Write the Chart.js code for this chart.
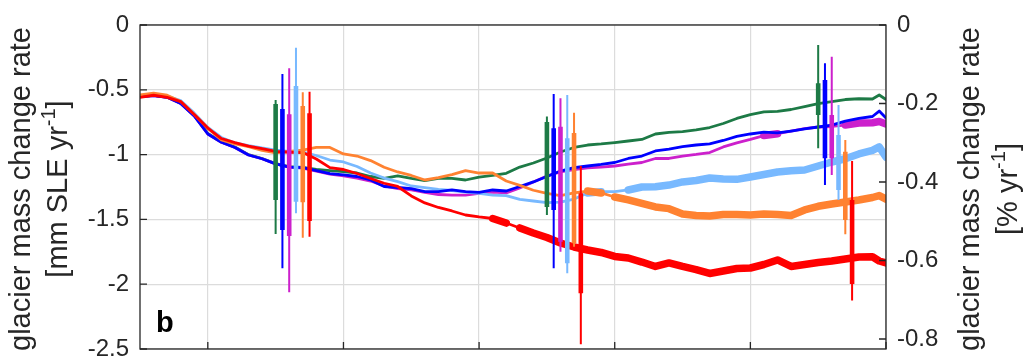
<!DOCTYPE html>
<html>
<head>
<meta charset="utf-8">
<script src="https://cdn.jsdelivr.net/npm/chart.js@4/dist/chart.umd.min.js"></script>
<style>
  html, body { margin: 0; padding: 0; background: #ffffff; overflow: hidden; }
  canvas { display: block; }
</style>
</head>
<body>
<canvas id="chart" width="1033" height="361"></canvas>
<script>
// ---- data -------------------------------------------------------------
const years = [1975, 1976, 1977, 1978, 1979, 1980, 1981, 1982, 1983, 1984,
  1985, 1986, 1987, 1988, 1989, 1990, 1991, 1992, 1993, 1994,
  1995, 1996, 1997, 1998, 1999, 2000, 2001, 2002, 2003, 2004,
  2005, 2006, 2007, 2008, 2009, 2010, 2011, 2012, 2013, 2014,
  2015, 2016, 2017, 2018, 2019, 2020, 2021, 2022, 2023, 2024,
  2025, 2026, 2027, 2028, 2029, 2029.5, 2030];

// glacier mass change rate, mm SLE per year
const redRate = [-0.558, -0.542, -0.559, -0.591, -0.690, -0.795, -0.876, -0.907, -0.934, -0.953,
  -0.976, -0.982, -0.984, -1.034, -1.100, -1.115, -1.146, -1.184, -1.221, -1.246,
  -1.319, -1.373, -1.408, -1.435, -1.466, -1.481, -1.493, -1.528, -1.566, -1.605,
  -1.640, -1.682, -1.713, -1.736, -1.755, -1.786, -1.798, -1.829, -1.863, -1.836,
  -1.863, -1.887, -1.917, -1.898, -1.879, -1.875, -1.848, -1.813, -1.863, -1.848,
  -1.833, -1.821, -1.806, -1.790, -1.788, -1.821, -1.836];
const orangeRate = [-0.540, -0.525, -0.542, -0.590, -0.691, -0.796, -0.887, -0.917, -0.939, -0.968,
  -0.986, -0.975, -0.965, -0.945, -0.945, -0.995, -1.011, -1.046, -1.098, -1.134,
  -1.161, -1.196, -1.177, -1.154, -1.123, -1.142, -1.142, -1.204, -1.238, -1.275,
  -1.300, -1.316, -1.296, -1.281, -1.296, -1.327, -1.350, -1.377, -1.404, -1.417,
  -1.458, -1.470, -1.474, -1.462, -1.462, -1.466, -1.458, -1.462, -1.470, -1.427,
  -1.399, -1.381, -1.366, -1.350, -1.331, -1.316, -1.343];
const blueRate = [-0.553, -0.544, -0.558, -0.606, -0.702, -0.841, -0.905, -0.945, -1.003, -1.032,
  -1.072, -1.096, -1.101, -1.123, -1.146, -1.157, -1.169, -1.196, -1.246, -1.254,
  -1.262, -1.285, -1.285, -1.273, -1.285, -1.292, -1.273, -1.281, -1.246, -1.211,
  -1.169, -1.127, -1.100, -1.088, -1.076, -1.061, -1.030, -1.011, -0.972, -0.957,
  -0.938, -0.926, -0.918, -0.891, -0.860, -0.841, -0.826, -0.833, -0.818, -0.802,
  -0.787, -0.772, -0.741, -0.721, -0.706, -0.664, -0.718];
const lightBlueRate = [-0.552, -0.532, -0.548, -0.583, -0.680, -0.790, -0.868, -0.910, -0.930, -0.949,
  -0.965, -0.976, -0.980, -1.007, -1.042, -1.057, -1.092, -1.142, -1.181, -1.208,
  -1.242, -1.254, -1.268, -1.277, -1.289, -1.300, -1.312, -1.316, -1.346, -1.358,
  -1.370, -1.366, -1.343, -1.296, -1.286, -1.285, -1.273, -1.250, -1.248, -1.235,
  -1.211, -1.200, -1.181, -1.188, -1.191, -1.173, -1.154, -1.134, -1.124, -1.119,
  -1.088, -1.057, -1.032, -0.995, -0.968, -0.941, -1.019];
const magentaRate = [-0.553, -0.544, -0.558, -0.606, -0.702, -0.841, -0.905, -0.945, -1.003, -1.032,
  -1.072, -1.096, -1.104, -1.127, -1.150, -1.165, -1.181, -1.204, -1.242, -1.262,
  -1.273, -1.292, -1.308, -1.312, -1.312, -1.300, -1.289, -1.296, -1.258, -1.211,
  -1.165, -1.134, -1.115, -1.103, -1.096, -1.088, -1.073, -1.061, -1.030, -1.030,
  -1.011, -0.999, -0.984, -0.941, -0.910, -0.883, -0.853, -0.839, -0.818, -0.799,
  -0.787, -0.783, -0.772, -0.756, -0.754, -0.745, -0.764];
const greenRate = [-0.553, -0.543, -0.556, -0.603, -0.698, -0.836, -0.902, -0.942, -1.000, -1.030,
  -1.070, -1.092, -1.099, -1.115, -1.123, -1.132, -1.142, -1.169, -1.184, -1.165,
  -1.184, -1.200, -1.184, -1.184, -1.196, -1.173, -1.161, -1.144, -1.096, -1.065,
  -1.026, -0.980, -0.945, -0.926, -0.918, -0.907, -0.895, -0.883, -0.841, -0.829,
  -0.822, -0.810, -0.791, -0.760, -0.721, -0.691, -0.671, -0.667, -0.652, -0.629,
  -0.606, -0.592, -0.575, -0.569, -0.571, -0.540, -0.575];

// year spans [from, to) in which a series is drawn as a heavy line
const heavySpans = {
  red:       [[2001, 2002], [2003, 2031]],
  orange:    [[2008, 2009], [2010, 2031]],
  lightBlue: [[2008, 2009], [2011, 2031]],
  blue:      [],
  magenta:   [[2021, 2022], [2027, 2031]],
  green:     []
};

// period estimates: position, wide range [top, bottom], narrow range [top, bottom]
const estYears = {
  green:     [1985.0, 2005.0, 2025.0],
  blue:      [1985.5, 2005.5, 2025.5],
  magenta:   [1986.0, 2006.0, 2026.0],
  lightBlue: [1986.5, 2006.5, 2026.5],
  orange:    [1987.0, 2007.0, 2027.0],
  red:       [1987.5, 2007.5, 2027.5]
};
const estWide = {
  green:     [[-0.579, -1.613], [-0.706, -1.466], [-0.154, -0.951]],
  blue:      [[-0.378, -1.877], [-0.532, -1.877], [-0.296, -1.235]],
  magenta:   [[-0.334, -2.063], [-0.566, -1.749], [-0.245, -1.157]],
  lightBlue: [[-0.175, -1.453], [-0.540, -1.916], [-0.617, -1.350]],
  orange:    [[-0.519, -1.641], [-0.677, -1.711], [-0.887, -1.615]],
  red:       [[-0.515, -1.634], [-1.088, -2.464], [-1.049, -2.126]]
};
const estNarrow = {
  green:     [[-0.610, -1.351], [-0.748, -1.404], [-0.450, -0.694]],
  blue:      [[-0.648, -1.582], [-0.797, -1.427], [-0.424, -1.029]],
  magenta:   [[-0.689, -1.628], [-0.785, -1.672], [-0.694, -1.029]],
  lightBlue: [[-0.471, -1.363], [-0.874, -1.839], [-0.849, -1.273]],
  orange:    [[-0.625, -1.368], [-0.833, -1.684], [-0.978, -1.505]],
  red:       [[-0.681, -1.512], [-1.299, -2.070], [-1.350, -1.998]]
};

// axes
const xMin = 1975, xMax = 2030;
const xGrid = [1980, 1990, 2000, 2010, 2020, 2030];
const leftTicks = [0, -0.5, -1, -1.5, -2, -2.5];
const leftMin = -2.5;
const rightTicks = [0, -0.2, -0.4, -0.6, -0.8];
const rightMin = -0.8255;   // same span as the left axis, in % per year
const panelLabel = 'b';

// ---- styling ------------------------------------------------------------
const FONT = '"Liberation Sans", Arial, Helvetica, sans-serif';
const INK = '#262626';
const GRID = '#dcdcdc';
const colors = {
  red: '#ff0000', orange: '#ff8231', lightBlue: '#78b9ff',
  blue: '#0000ff', magenta: '#cc20cc', green: '#1d7a46'
};
const rates = { red: redRate, orange: orangeRate, lightBlue: lightBlueRate,
  blue: blueRate, magenta: magentaRate, green: greenRate };
// drawing order: first name is on top
const stack = ['red', 'orange', 'blue', 'lightBlue', 'magenta', 'green'];
const THIN = 2.8, HEAVY = 7.5;

const datasets = [];

// error bars (on top of the curves)
stack.forEach((name, k) => {
  [['wide', estWide, 2.0], ['narrow', estNarrow, 4.6]].forEach(([kind, src, w], j) => {
    const pts = [];
    estYears[name].forEach((x, i) => {
      pts.push({ x, y: src[name][i][0] }, { x, y: src[name][i][1] }, { x, y: null });
    });
    datasets.push({
      type: 'line', label: name + ' ' + kind, data: pts,
      borderColor: colors[name], borderWidth: w, borderCapStyle: 'butt',
      pointRadius: 0, spanGaps: false, fill: false, order: k * 2 + (1 - j)
    });
  });
});

// rate curves
stack.forEach((name, k) => {
  const spans = heavySpans[name];
  const isHeavy = x => spans.some(([a, b]) => x >= a && x < b);
  datasets.push({
    type: 'line', label: name, data: years.map((x, i) => ({ x, y: rates[name][i] })),
    borderColor: colors[name], borderWidth: THIN, tension: 0, pointRadius: 0, fill: false,
    borderJoinStyle: 'round', borderCapStyle: 'round', order: 20 + k,
    segment: { borderWidth: c => (isHeavy(c.p0.parsed.x) ? HEAVY : THIN) }
  });
});

// ---- titles, frame and inward tick marks ---------------------------------
function drawRotatedLine(ctx, baseX, centerY, parts, size) {
  ctx.save();
  ctx.translate(baseX, centerY);
  ctx.rotate(-Math.PI / 2);
  ctx.textBaseline = 'alphabetic';
  ctx.textAlign = 'left';
  const supSize = Math.round(size * 0.68);
  let total = 0;
  parts.forEach(p => {
    ctx.font = (p.sup ? supSize : size) + 'px ' + FONT;
    p.w = ctx.measureText(p.t).width;
    total += p.w;
  });
  let x = -total / 2;
  parts.forEach(p => {
    ctx.font = (p.sup ? supSize : size) + 'px ' + FONT;
    ctx.fillText(p.t, x, p.sup ? -size * 0.42 : 0);
    x += p.w;
  });
  ctx.restore();
}

const decor = {
  id: 'decor',
  afterDraw(chart) {
    const { ctx, chartArea: a, scales } = chart;
    ctx.save();
    ctx.strokeStyle = INK;
    ctx.lineWidth = 1.3;
    ctx.beginPath();
    leftTicks.forEach(v => { const y = scales.y.getPixelForValue(v); ctx.moveTo(a.left, y); ctx.lineTo(a.left + 7, y); });
    rightTicks.forEach(v => { const y = scales.y2.getPixelForValue(v); ctx.moveTo(a.right, y); ctx.lineTo(a.right - 7, y); });
    xGrid.forEach(v => { const x = scales.x.getPixelForValue(v); ctx.moveTo(x, a.bottom); ctx.lineTo(x, a.bottom - 7); });
    ctx.stroke();
    ctx.strokeRect(a.left, a.top, a.right - a.left, a.bottom - a.top);

    ctx.fillStyle = '#000000';
    ctx.font = 'bold 29px ' + FONT;
    ctx.textBaseline = 'alphabetic';
    ctx.textAlign = 'left';
    ctx.fillText(panelLabel, a.left + 16, a.bottom - 17);

    ctx.fillStyle = INK;
    const cy = (a.top + a.bottom) / 2 + 2;
    drawRotatedLine(ctx, 30, cy, [{ t: 'glacier mass change rate' }], 29);
    drawRotatedLine(ctx, 67, cy, [{ t: '[mm SLE yr' }, { t: '-1', sup: true }, { t: ']' }], 29);
    drawRotatedLine(ctx, 979, cy, [{ t: 'glacier mass change rate' }], 29);
    drawRotatedLine(ctx, 1017, cy, [{ t: '[% yr' }, { t: '-1', sup: true }, { t: ']' }], 29);
    ctx.restore();
  }
};

const tickFont = { family: FONT, size: 24, lineHeight: 1 };
// vertical axes: fixed width, and no extra room reserved above/below the plot
const fixY = w => s => { s.width = w; s.paddingTop = 0; s.paddingBottom = 0; };

new Chart(document.getElementById('chart'), {
  type: 'line',
  data: { datasets },
  options: {
    responsive: false,
    animation: false,
    devicePixelRatio: 1,
    layout: { padding: { left: 0, right: 0, top: 25, bottom: 12 } },
    plugins: { legend: { display: false }, tooltip: { enabled: false } },
    scales: {
      x: {
        type: 'linear', min: xMin, max: xMax,
        afterBuildTicks: s => { s.ticks = xGrid.map(v => ({ value: v })); },
        ticks: { display: false },
        grid: { color: GRID, lineWidth: 1.2, drawTicks: false },
        border: { display: false },
        afterFit: s => { s.height = 0; s.paddingLeft = 0; s.paddingRight = 0; }
      },
      y: {
        type: 'linear', position: 'left', min: leftMin, max: 0,
        afterBuildTicks: s => { s.ticks = leftTicks.map(v => ({ value: v })); },
        ticks: { font: tickFont, color: INK, padding: 11, autoSkip: false, callback: v => String(v) },
        grid: { color: GRID, lineWidth: 1.2, drawTicks: false },
        border: { display: false },
        afterFit: fixY(140)
      },
      y2: {
        type: 'linear', position: 'right', min: rightMin, max: 0,
        afterBuildTicks: s => { s.ticks = rightTicks.map(v => ({ value: v })); },
        ticks: { font: tickFont, color: INK, padding: 11, autoSkip: false, callback: v => String(v) },
        grid: { drawOnChartArea: false, drawTicks: false },
        border: { display: false },
        afterFit: fixY(147)
      }
    }
  },
  plugins: [decor]
});
</script>
</body>
</html>
